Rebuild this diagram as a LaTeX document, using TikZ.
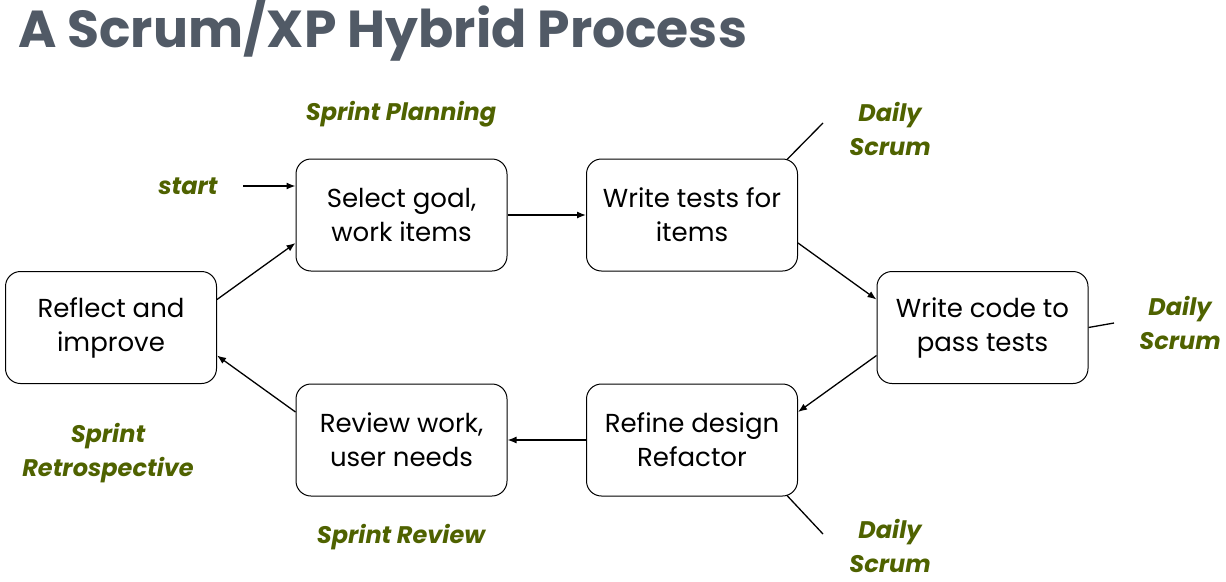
\documentclass[tikz,border=0pt]{standalone}
\usepackage{fontspec}
\setmainfont{Poppins}
\definecolor{olive}{HTML}{4F6200}
\definecolor{titlegray}{HTML}{515A66}
\tikzset{
  stage/.style={draw, line width=1pt, rounded corners=15pt, minimum width=211pt, minimum height=112pt, align=center, font=\fontsize{26}{34}\selectfont, inner sep=0pt},
  flow/.style={-{Latex[length=9pt,width=7pt]}, line width=1.3pt},
  tick/.style={line width=1.3pt},
  lbl/.style={text=olive, font=\fontsize{24}{34}\selectfont\bfseries\itshape, align=center},
}
\usetikzlibrary{arrows.meta}
\begin{document}
\begin{tikzpicture}[x=1pt,y=-1pt]
\useasboundingbox (0,0) rectangle (1226,581);
\node[text=titlegray, font=\fontsize{52}{60}\selectfont\bfseries, anchor=west, inner sep=0pt] (title) at (18,30) {A Scrum/XP Hybrid Process};

\node[stage] (sel) at (401.5,215) {Select goal,\\work items};
\node[stage] (wt) at (692,215) {Write tests for\\items};
\node[stage] (wc) at (982.5,327.5) {Write code to\\pass tests};
\node[stage] (ref) at (692,440) {Refine design\\Refactor};
\node[stage] (rev) at (401.5,440) {Review work,\\user needs};
\node[stage] (refl) at (111,327.5) {Reflect and\\improve};

\node[lbl] (sp) at (401,114) {Sprint Planning};
\node[lbl] (st) at (188,186) {start};
\node[lbl] (ds1) at (890,129) {Daily\\Scrum};
\node[lbl] (ds2) at (1180,323) {Daily\\Scrum};
\node[lbl] (ds3) at (890,546) {Daily\\Scrum};
\node[lbl] (sr) at (401,537) {Sprint Review};
\node[lbl] (sre) at (108,453) {Sprint\\Retrospective};

\coordinate (stin) at (243,186);
\draw[flow] (stin) -- (sel.west |- stin);
\draw[flow] (sel.east) -- (wt.west);
\draw[flow] ([yshift=-28pt]wt.east) -- ([yshift=28pt]wc.west);
\draw[flow] ([yshift=-28pt]wc.west) -- ([yshift=28pt]ref.east);
\draw[flow] (ref.west) -- (rev.east);
\draw[flow] ([yshift=28pt]rev.west) -- ([yshift=-28pt]refl.east);
\draw[flow] ([yshift=28pt]refl.east) -- ([yshift=-28pt]sel.west);

\coordinate (t1) at (823,123);
\coordinate (t2) at (1114,323);
\coordinate (t3) at (823,534);
\draw[tick] ([shift={(-11,1)}]wt.north east) -- (t1);
\draw[tick] (wc.east) -- (t2);
\draw[tick] ([shift={(-11,-1)}]ref.south east) -- (t3);
\end{tikzpicture}
\end{document}
